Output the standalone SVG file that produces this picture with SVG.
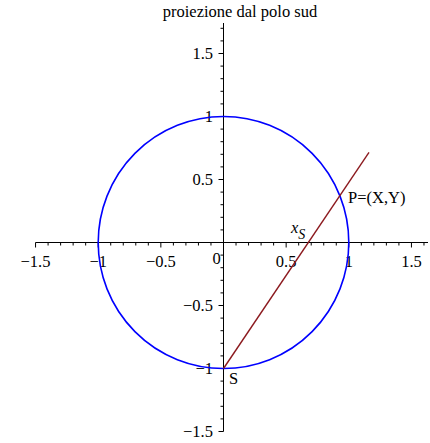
<svg xmlns="http://www.w3.org/2000/svg" width="430" height="443" viewBox="0 0 430 443">
<style>
.ax{stroke:#000;stroke-width:1;fill:none}
.t{font-family:"Liberation Serif","Times New Roman",serif;font-size:16.5px;fill:#000}
.xl{text-anchor:middle}
.yl{text-anchor:end}
</style>
<rect width="430" height="443" fill="#fff"/>
<text class="t" x="240" y="17" text-anchor="middle" font-size="18">proiezione dal polo sud</text>
<g id="axes">
<path class="ax" d="M35.5 242.5H428M223.5 23V431.5"/>
<path class="ax" d="M35.55 242.5v5M48.08 242.5v3M60.61 242.5v3M73.14 242.5v3M85.67 242.5v3M98.2 242.5v5M110.73 242.5v3M123.26 242.5v3M135.79 242.5v3M148.32 242.5v3M160.85 242.5v5M173.38 242.5v3M185.91 242.5v3M198.44 242.5v3M210.97 242.5v3M236.03 242.5v3M248.56 242.5v3M261.09 242.5v3M273.62 242.5v3M286.15 242.5v5M298.68 242.5v3M311.21 242.5v3M323.74 242.5v3M336.27 242.5v3M348.8 242.5v5M361.33 242.5v3M373.86 242.5v3M386.39 242.5v3M398.92 242.5v3M411.45 242.5v5M423.98 242.5v3"/>
<path class="ax" d="M223.5 28.3h-3M223.5 40.9h-3M223.5 53.5h-5M223.5 66.1h-3M223.5 78.7h-3M223.5 91.3h-3M223.5 103.9h-3M223.5 116.5h-5M223.5 129.1h-3M223.5 141.7h-3M223.5 154.3h-3M223.5 166.9h-3M223.5 179.5h-5M223.5 192.1h-3M223.5 204.7h-3M223.5 217.3h-3M223.5 229.9h-3M223.5 255.1h-3M223.5 267.7h-3M223.5 280.3h-3M223.5 292.9h-3M223.5 305.5h-5M223.5 318.1h-3M223.5 330.7h-3M223.5 343.3h-3M223.5 355.9h-3M223.5 368.5h-5M223.5 381.1h-3M223.5 393.7h-3M223.5 406.3h-3M223.5 418.9h-3M223.5 431.5h-5"/>
<g class="t xl">
<text x="35.5" y="267">−1.5</text>
<text x="98.2" y="267">−1</text>
<text x="160.85" y="267">−0.5</text>
<text x="286.15" y="267">0.5</text>
<text x="348.8" y="267">1</text>
<text x="411.45" y="267">1.5</text>
</g>
<text class="t" x="212.5" y="264">0</text>
<g class="t yl">
<text x="213" y="58.5">1.5</text>
<text x="213" y="121.5">1</text>
<text x="213" y="184.5">0.5</text>
<text x="213" y="310.5">−0.5</text>
<text x="213" y="373.5">−1</text>
<text x="213" y="436.5">−1.5</text>
</g>
</g>
<g id="circle">
<ellipse cx="223.5" cy="242.5" rx="125.3" ry="126" fill="none" stroke="#0000ff" stroke-width="1.6"/>
</g>
<g id="connectors">
<line x1="223.5" y1="368.5" x2="369" y2="152.3" stroke="#8c1a1f" stroke-width="1.4"/>
</g>
<g id="labels">
<text class="t" x="291" y="233" font-style="italic">x<tspan font-size="14" dy="6">S</tspan></text>
<text class="t" x="348" y="203">P=(X,Y)</text>
<text class="t" x="229" y="384">S</text>
</g>
</svg>
